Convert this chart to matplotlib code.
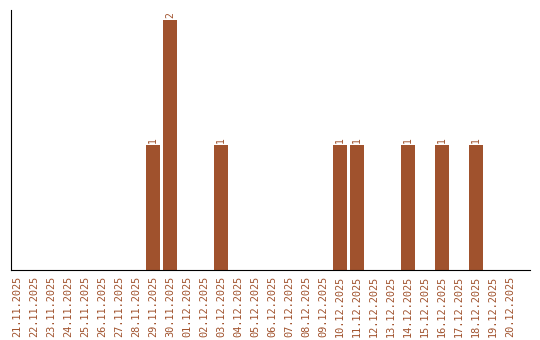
import matplotlib
matplotlib.use("Agg")
import matplotlib.pyplot as plt
import pandas as pd

dates = [d.strftime("%d.%m.%Y") for d in pd.date_range("2025-11-21", "2025-12-20")]
counts = {"29.11.2025": 1, "30.11.2025": 2, "03.12.2025": 1, "10.12.2025": 1,
          "11.12.2025": 1, "14.12.2025": 1, "16.12.2025": 1, "18.12.2025": 1}
values = [counts.get(d, 0) for d in dates]

color = "#A0522D"
fig = plt.figure(figsize=(5.4, 3.4), dpi=100)
ax = fig.add_axes([11/540, 70/340, 519/540, 260/340])
x = list(range(len(dates)))
bars = ax.bar(x, values, width=0.82, color=color)
for xi, v in zip(x, values):
    if v > 0:
        ax.text(xi, v + 0.02, str(v), rotation=90, ha="center", va="bottom",
                color=color, fontsize=7, family="DejaVu Sans Mono")
ax.set_xlim(-0.35, 30.18)
ax.set_ylim(0, 2.08)
ax.set_xticks(x)
ax.set_xticklabels(dates, rotation=90, color=color, fontsize=7.4, family="DejaVu Sans Mono")
ax.tick_params(axis="x", length=0, pad=4)
ax.set_yticks([])
for s in ["top", "right"]:
    ax.spines[s].set_visible(False)
ax.spines["left"].set_color("black")
ax.spines["bottom"].set_color("black")
fig.savefig("out.png", dpi=100)
